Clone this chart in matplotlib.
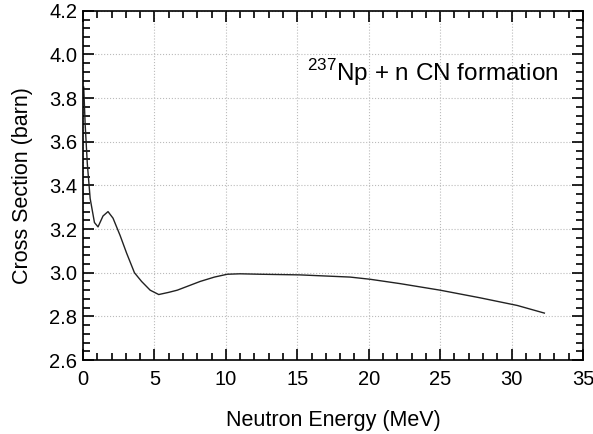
import matplotlib
matplotlib.use("Agg")
import matplotlib.pyplot as plt
from matplotlib.ticker import MultipleLocator

plt.rcParams['font.family'] = ['Liberation Sans', 'DejaVu Sans']
plt.rcParams['mathtext.fontset'] = 'custom'
plt.rcParams['mathtext.rm'] = 'Liberation Sans'

# values
energy = [0.05, 0.15, 0.3, 0.5, 0.8, 1.05, 1.4, 1.75, 2.1, 2.6, 3.05, 3.6,
          4.1, 4.7, 5.3, 6.0, 6.6, 7.4, 8.2, 9.2, 10.1, 11.0, 12.4, 15.2,
          18.7, 20.1, 22.2, 25.0, 27.8, 30.4, 32.3]
sigma = [3.85, 3.68, 3.50, 3.34, 3.23, 3.21, 3.26, 3.28, 3.25, 3.17, 3.09, 3.00,
         2.96, 2.92, 2.90, 2.91, 2.92, 2.94, 2.96, 2.98, 2.993, 2.995, 2.993, 2.99,
         2.98, 2.97, 2.95, 2.92, 2.885, 2.85, 2.815]

fig = plt.figure(figsize=(5.93, 4.34), dpi=100)
ax = fig.add_axes([0.14, 0.1705, 0.843, 0.8045])

ax.plot(energy, sigma, color='#222222', lw=1.0)

ax.set_xlim(0, 35)
ax.set_ylim(2.6, 4.2)
ax.xaxis.set_major_locator(MultipleLocator(5))
ax.xaxis.set_minor_locator(MultipleLocator(1))
ax.yaxis.set_major_locator(MultipleLocator(0.2))
ax.yaxis.set_minor_locator(MultipleLocator(0.04))
ax.tick_params(which='both', direction='in', top=True, right=True, labelsize=14.5, width=1.2)
ax.tick_params(which='major', length=8, pad=4)
ax.tick_params(which='minor', length=5)
ax.tick_params(axis='x', which='major', pad=7)
ax.yaxis.set_major_formatter(matplotlib.ticker.FormatStrFormatter('%.1f'))
for s in ax.spines.values():
    s.set_linewidth(1.2)

ax.grid(True, which='major', linestyle=':', color='#bbbbbb', lw=0.8)

ax.text(15.7, 3.88, r'$^{237}$Np + n CN formation', fontsize=17.5, va='baseline')

ax.set_xlabel('Neutron Energy (MeV)', fontsize=15.5, labelpad=15)
ax.set_ylabel('Cross Section (barn)', fontsize=15.5, labelpad=12)

fig.savefig('out.png', dpi=100)
